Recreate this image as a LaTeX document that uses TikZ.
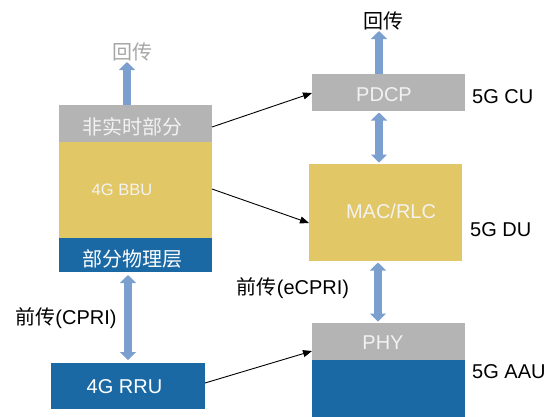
\documentclass[tikz,border=0pt]{standalone}
\usepackage{fontspec}
\setmainfont{Liberation Sans}
\newfontfamily\cjk{Noto Sans CJK SC}
\usetikzlibrary{arrows.meta}

\definecolor{boxgray}{HTML}{B4B4B4}
\definecolor{boxyellow}{HTML}{E2C766}
\definecolor{boxblue}{HTML}{1A69A4}
\definecolor{linkblue}{HTML}{7B9FCF}
\definecolor{paletext}{HTML}{F2F2F2}
\definecolor{backtext}{HTML}{A6A6A6}

\tikzset{
  block/.style={draw=none, inner sep=0pt, outer sep=0pt},
  lbl/.style={inner sep=0pt, font=\fontsize{20}{24}\selectfont},
  inlbl/.style={lbl, text=paletext},
  hop/.style={line width=8.5pt, draw=linkblue, -{Triangle[length=8pt,width=16pt]}},
  duplex/.style={line width=8.5pt, draw=linkblue, {Triangle[length=8pt,width=16pt]}-{Triangle[length=8pt,width=16pt]}},
  feed/.style={line width=0.9pt, draw=black, -{Triangle[length=9pt,width=7pt]}}
}

\begin{document}
\begin{tikzpicture}[x=1pt,y=-1pt]
\useasboundingbox (0,0) rectangle (556,416);

% 4G side
\node[block, fill=boxgray,   minimum width=153pt, minimum height=37pt] (ntr) at (135.5,123.5) {};
\node[block, fill=boxyellow, minimum width=153pt, minimum height=96pt] (bbu) at (135.5,190) {};
\node[block, fill=boxblue,   minimum width=153pt, minimum height=34pt] (pphy) at (135.5,255) {};
\node[block, fill=boxblue,   minimum width=154pt, minimum height=46pt] (rru) at (128,386) {};

\node[inlbl] at (132.5,127) {\cjk 非实时部分};
\node[inlbl, font=\fontsize{16.5}{20}\selectfont] at (122,190) {4G BBU};
\node[inlbl, text=white] at (132.5,259) {\cjk 部分物理层};
\node[inlbl, text=white] at (124.5,387) {4G RRU};

\node[lbl, text=backtext] (bhL) at (132.5,52) {\cjk 回传};
\node[lbl] (cpri) at (66,318) {{\cjk 前传}(CPRI)};

% 5G side
\node[block, fill=boxgray,   minimum width=153pt, minimum height=37pt] (pdcp) at (388.5,92.5) {};
\node[block, fill=boxyellow, minimum width=153pt, minimum height=97pt] (mac) at (385.5,212.5) {};
\node[block, fill=boxgray,   minimum width=153pt, minimum height=37pt] (phy) at (388.5,341.5) {};
\node[block, fill=boxblue,   minimum width=153pt, minimum height=57pt] (aau) at (388.5,388.5) {};

\node[inlbl] at (384,95) {PDCP};
\node[inlbl] at (391,211) {MAC/RLC};
\node[inlbl] at (383,343) {PHY};

\node[lbl] (bhR) at (383,21) {\cjk 回传};
\node[lbl] (ecpri) at (293,288) {{\cjk 前传}(eCPRI)};

\node[lbl, anchor=west] at (472,97) {5G CU};
\node[lbl, anchor=west] at (470,230) {5G DU};
\node[lbl, anchor=west] at (472,372) {5G AAU};

% transport links
\coordinate (upL) at (127,62);
\coordinate (upR) at (379,31);
\draw[hop] (127,105) -- (upL);
\draw[hop] (379,74) -- (upR);

\draw[duplex] (128,275) -- (128,360);
\draw[duplex] (379,112.5) -- (379,162.5);
\draw[duplex] (378,262.5) -- (378,321.5);

% function mapping 4G -> 5G
\draw[feed] ([yshift=-3.5pt]ntr.east) -- ([yshift=-0.5pt]pdcp.west);
\draw[feed] ([yshift=1pt]bbu.east) -- ([yshift=-10.5pt]mac.west);
\draw[feed] ([yshift=3pt]rru.east) -- ([yshift=-9.5pt]phy.west);
\end{tikzpicture}
\end{document}
